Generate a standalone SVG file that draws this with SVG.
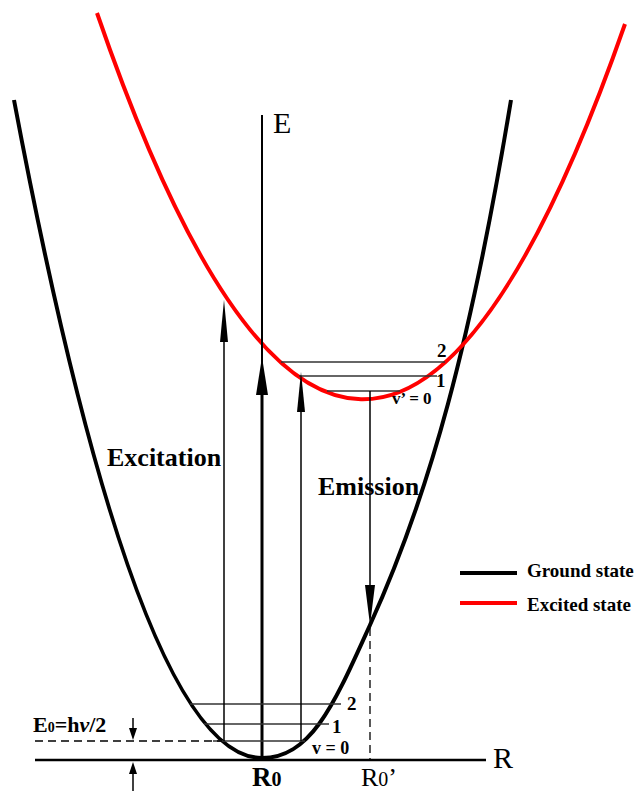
<svg xmlns="http://www.w3.org/2000/svg" width="640" height="791" viewBox="0 0 640 791">
<style>
.t{font-family:"Liberation Serif","Times New Roman",serif;fill:#000}
.b{font-weight:bold}
.thin{stroke:#000;stroke-width:1.5;fill:none}
.lvl{stroke:#333;stroke-width:1.5;fill:none}
.dash{stroke:#000;stroke-width:1.3;fill:none;stroke-dasharray:8 5}
</style>
<rect width="640" height="791" fill="#fff"/>
<g id="curves">
<path id="ground" d="M14,100 Q138,758 262,758 C312,758 335,702 370,625 C430,493 471,342 511,100" fill="none" stroke="#000" stroke-width="4"/>
<path id="excited" d="M97,13 Q361,780 625,24" fill="none" stroke="#f00" stroke-width="4"/>
</g>
<g id="axes">
<line x1="262" y1="115" x2="262" y2="760" stroke="#000" stroke-width="2"/>
<line x1="262" y1="395" x2="262" y2="760" stroke="#000" stroke-width="3"/>
<line x1="35" y1="760" x2="486" y2="760" stroke="#000" stroke-width="2.5"/>
<text class="t" x="273" y="133" font-size="30">E</text>
<text class="t" x="493" y="768" font-size="30">R</text>
<text class="t b" x="252" y="786" font-size="27">R<tspan font-size="20">0</tspan></text>
<text class="t" x="361" y="786" font-size="26">R<tspan font-size="20">0</tspan>’</text>
</g>
<g id="levels">
<line class="lvl" x1="190" y1="704" x2="341" y2="704"/>
<line class="lvl" x1="204" y1="724" x2="329" y2="724"/>
<line class="lvl" x1="213" y1="741" x2="305" y2="741"/>
<line class="lvl" x1="281" y1="362" x2="445" y2="362"/>
<line class="lvl" x1="299" y1="376" x2="437" y2="376"/>
<line class="lvl" x1="327" y1="391" x2="400" y2="391"/>
<text class="t b" x="347" y="710" font-size="19">2</text>
<text class="t b" x="332" y="733" font-size="19">1</text>
<text class="t b" x="312" y="754" font-size="18">v = 0</text>
<text class="t b" x="437" y="357" font-size="19">2</text>
<text class="t b" x="436" y="387" font-size="19">1</text>
<text class="t b" x="392" y="404" font-size="17">v’ = 0</text>
</g>
<g id="connectors">
<line class="thin" x1="224" y1="741" x2="224" y2="335"/>
<polygon points="224,300 220,342 228,342" fill="#000"/>
<polygon points="262,357 256,395 268,395" fill="#000"/>
<line class="thin" x1="301" y1="741" x2="301" y2="405"/>
<polygon points="301,372 297,412 305,412" fill="#000"/>
<line class="thin" x1="370" y1="391" x2="370" y2="590"/>
<polygon points="370,625 365,585 375,585" fill="#000"/>
<line class="dash" x1="370" y1="628" x2="370" y2="760"/>
<line class="dash" x1="35" y1="741" x2="222" y2="741"/>
<line class="thin" x1="133" y1="718" x2="133" y2="730"/>
<polygon points="133,740 129,728 137,728" fill="#000"/>
<line class="thin" x1="133" y1="791" x2="133" y2="772"/>
<polygon points="133,762 129,774 137,774" fill="#000"/>
</g>
<g id="labels">
<text class="t b" x="107" y="466" font-size="26">Excitation</text>
<text class="t b" x="318" y="495" font-size="26">Emission</text>
<text class="t b" x="33" y="732" font-size="22">E<tspan font-size="14">0</tspan>=h<tspan font-style="italic">ν</tspan>/2</text>
</g>
<g id="legend">
<line x1="460" y1="573" x2="517" y2="573" stroke="#000" stroke-width="4"/>
<line x1="460" y1="603" x2="517" y2="603" stroke="#f00" stroke-width="4"/>
<text class="t b" x="527" y="577" font-size="19">Ground state</text>
<text class="t b" x="527" y="611" font-size="19">Excited state</text>
</g>
</svg>
